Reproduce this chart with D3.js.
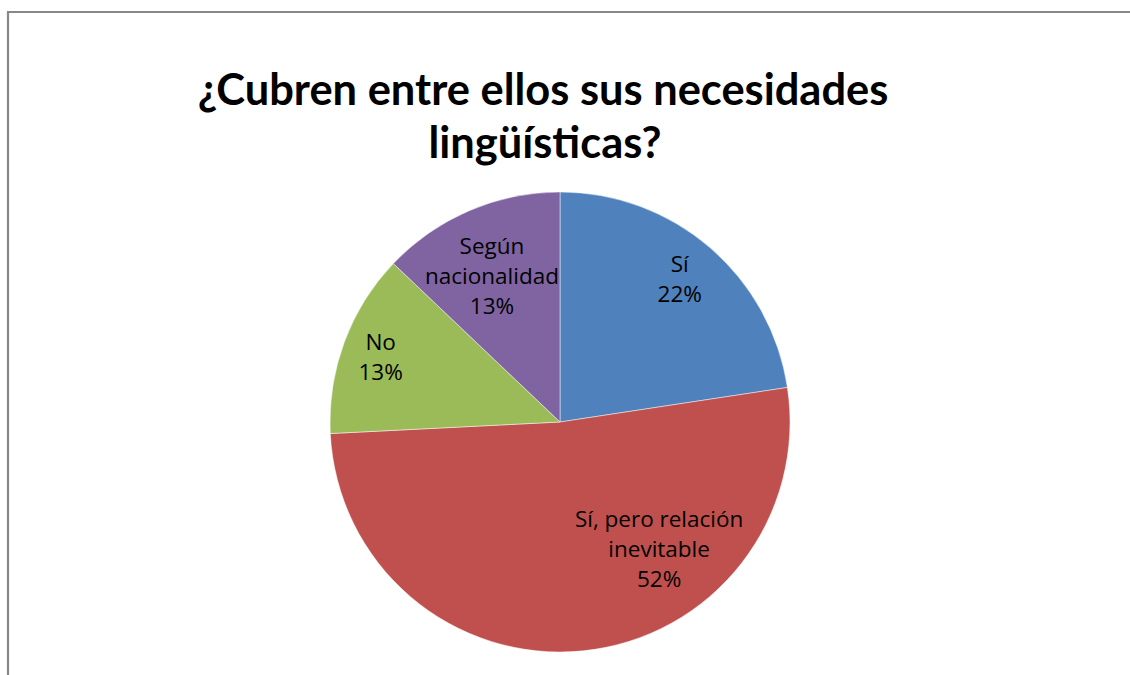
<!DOCTYPE html>
<html><head><meta charset="utf-8">
<script src="https://cdn.jsdelivr.net/npm/d3@7"></script>
<style>html,body{margin:0;padding:0;background:#fff;}svg{display:block;}</style>
</head><body>
<svg id="c" width="1130" height="675"></svg>
<script>
const titleLines = ["¿Cubren entre ellos sus necesidades", "lingüísticas?"];
const categories = ["Sí", "Sí, pero relación inevitable", "No", "Según nacionalidad"];
const values = [22.6, 51.6, 12.9, 12.9];
const pctLabels = ["22%", "52%", "13%", "13%"];
const labelLines = [["Sí"], ["Sí, pero relación", "inevitable"], ["No"], ["Según", "nacionalidad"]];
const colors = ["#4F81BD", "#C0504D", "#9BBB59", "#8064A2"];

const W = 1130, H = 675;
const svg = d3.select("#c");
svg.append("rect").attr("width", W).attr("height", H).attr("fill", "#fff");

// frame (cropped: top and left only)
svg.append("path").attr("d", `M8,${H} L8,12 L${W},12`).attr("fill", "none")
  .attr("stroke", "#888").attr("stroke-width", 2.2);

// title
const titleFont = "Lato, 'Open Sans', sans-serif";
const tg = svg.append("g");
const t1 = tg.append("text").attr("x", 543).attr("y", 105).attr("text-anchor", "middle")
  .attr("font-family", titleFont).attr("font-weight", "bold").attr("font-size", 44)
  .attr("fill", "#000").text(titleLines[0]);
const w1 = t1.node().getComputedTextLength();
const fs = 44 * 691 / w1;
t1.attr("font-size", fs);
tg.append("text").attr("x", 545).attr("y", 158).attr("text-anchor", "middle")
  .attr("font-family", titleFont).attr("font-weight", "bold").attr("font-size", fs)
  .attr("fill", "#000").text(titleLines[1]);

// pie
const cx = 560, cy = 422, R = 230;
const pie = d3.pie().sort(null).value(d => d)(values);
const arc = d3.arc().innerRadius(0).outerRadius(R);
const g = svg.append("g").attr("transform", `translate(${cx},${cy})`);
g.selectAll("path").data(pie).join("path")
  .attr("d", arc).attr("fill", (d, i) => colors[i])
  .attr("stroke", "#fff").attr("stroke-width", 0.8).attr("stroke-opacity", 0.6);

// label placement (polar: angle in degrees from top clockwise, radius fraction)
const labelPolar = [[40, 0.81], [142, 0.70], [-70, 0.83], [-25, 0.70]];
const lineH = 30;
pie.forEach((d, i) => {
  const [adeg, rf] = labelPolar[i];
  const a = adeg * Math.PI / 180;
  const lx = Math.sin(a) * R * rf, ly = -Math.cos(a) * R * rf;
  const lines = labelLines[i].concat([pctLabels[i]]);
  const t = g.append("text").attr("text-anchor", "middle")
    .attr("font-family", "'Open Sans', Lato, sans-serif").attr("font-size", 22.5)
    .attr("fill", "#000");
  const y0 = ly - (lines.length - 1) * lineH / 2;
  lines.forEach((s, k) => {
    t.append("tspan").attr("x", lx).attr("y", y0 + k * lineH).attr("dy", "0.35em").text(s);
  });
});
</script>
</body></html>
